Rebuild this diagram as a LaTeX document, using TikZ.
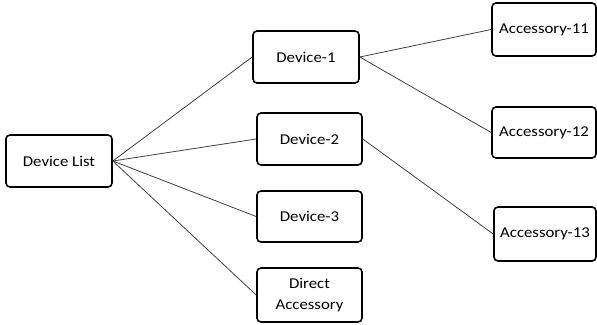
\documentclass[tikz,border=0pt]{standalone}
\usepackage{fontspec}
\setmainfont{Carlito}[FakeStretch=1.12]
\begin{document}
\begin{tikzpicture}[x=1pt,y=-1pt,
  box/.style={draw=black, line width=1.6pt, rounded corners=4pt, fill=white,
    font=\fontsize{15}{18}\selectfont, align=center, inner sep=0pt},
  link/.style={draw=black!75, line width=0.8pt}]
\useasboundingbox (0,0) rectangle (597,324);
% root
\node[box, minimum width=106pt, minimum height=52pt] (root) at (59,161) {Device List};
% devices
\node[box, minimum width=106pt, minimum height=52pt] (d1) at (306,57) {Device-1};
\node[box, minimum width=105pt, minimum height=52pt] (d2) at (309.5,139) {Device-2};
\node[box, minimum width=105pt, minimum height=51pt] (d3) at (309.5,216.5) {Device-3};
\node[box, minimum width=105pt, minimum height=54pt] (da) at (309.5,295) {Direct\\[3pt]Accessory};
% accessories
\node[box, minimum width=104pt, minimum height=53pt] (a11) at (544,29.5) {Accessory-11};
\node[box, minimum width=104pt, minimum height=51pt] (a12) at (544,132.5) {Accessory-12};
\node[box, minimum width=102pt, minimum height=54pt] (a13) at (545,234) {Accessory-13};
% connectors
\draw[link] (root.east) -- (d1.west);
\draw[link] (root.east) -- (d2.west);
\draw[link] (root.east) -- (d3.west);
\draw[link] (root.east) -- (da.west);
\draw[link] (d1.east) -- (a11.west);
\draw[link] (d1.east) -- (a12.west);
\draw[link] (d2.east) -- (a13.west);
\end{tikzpicture}
\end{document}
